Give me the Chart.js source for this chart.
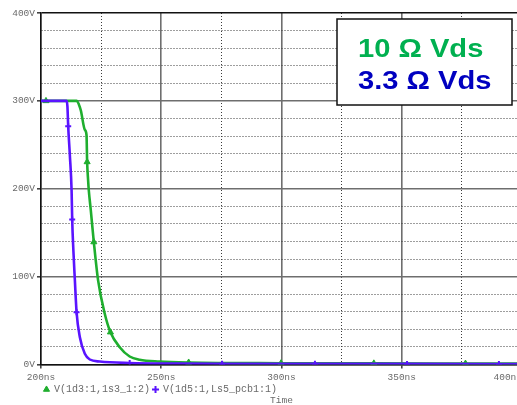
<!DOCTYPE html>
<html>
<head>
<meta charset="utf-8">
<script src="https://cdn.jsdelivr.net/npm/chart.js@4/dist/chart.umd.min.js"></script>
<style>
  html, body { margin: 0; padding: 0; background: #fff; overflow: hidden; }
  #wrap { width: 540px; height: 405px; }
</style>
</head>
<body>
<div id="wrap"><canvas id="c" width="540" height="405"></canvas></div>
<script>
// Trace 1: V(1d3:1,1s3_1:2), 10 ohm gate resistor (time in ns, volts)
const greenTime = [200, 202.07, 214.8, 215.74, 216.57, 218.23, 218.93, 219.18, 219.59, 219.88,
                   220.71, 221.96, 223.74, 226.51, 228.87, 232.73, 236.87, 241.01, 249.3, 261.4,
                   299.8, 338.4, 376.5, 400];
const greenVolts = [300, 300, 300, 296, 289, 267, 261, 230.5, 209.7, 198,
                    175.5, 139.4, 95.7, 57.8, 36.8, 19.7, 9.1, 5.4, 3.4, 2.3,
                    1.5, 1.3, 1.1, 1.0];
const greenMarkers = [1, 7, 11, 14, 19, 20, 21, 22];

// Trace 2: V(1d5:1,Ls5_pcb1:1), 3.3 ohm gate resistor
const blueTime = [200, 210.65, 210.98, 211.31, 212.0, 212.72, 212.97, 213.46, 214.08, 214.79,
                  216.16, 218.23, 220.3, 224.44, 236.87, 257.6, 275.3, 313.9, 352.2, 390.4, 400];
const blueVolts = [300, 300, 294, 271, 238, 198, 165, 130, 96, 59.6,
                   31, 12.2, 5.7, 3.4, 1.7, 1.1, 0.9, 0.8, 0.7, 0.6, 0.6];
const blueMarkers = [3, 6, 9, 14, 16, 17, 18, 19];

const seriesNames = ['V(1d3:1,1s3_1:2)', 'V(1d5:1,Ls5_pcb1:1)'];
const noteLines = ['10 \u03A9 Vds', '3.3 \u03A9 Vds'];
const xTitle = 'Time';

const GREEN = '#1fae2e';
const BLUE = '#5a14ff';
const MONO = '"Liberation Mono", "DejaVu Sans Mono", monospace';
const TICK_GREY = '#6a6a6a';

function toPoints(xs, ys) { return xs.map((x, i) => ({ x: x, y: ys[i] })); }

// Annotation box in the upper-right corner of the plot
const noteBox = {
  id: 'noteBox',
  afterDraw(chart) {
    const ctx = chart.ctx;
    ctx.save();
    ctx.fillStyle = '#fff';
    ctx.strokeStyle = '#111';
    ctx.lineWidth = 1.5;
    ctx.fillRect(337, 19, 175, 86);
    ctx.strokeRect(337, 19, 175, 86);
    ctx.font = 'bold 26px "Liberation Sans", Arial, sans-serif';
    ctx.textAlign = 'left';
    ctx.textBaseline = 'alphabetic';
    const colors = ['#00b050', '#0000c0'];
    const baselines = [56.5, 89];
    noteLines.forEach((t, i) => {
      ctx.save();
      ctx.translate(358, baselines[i]);
      ctx.scale(1.12, 1);
      ctx.fillStyle = colors[i];
      ctx.fillText(t, 0, 0);
      ctx.restore();
    });
    ctx.restore();
  }
};

new Chart(document.getElementById('c'), {
  type: 'line',
  data: {
    datasets: [
      {
        label: seriesNames[0],
        data: toPoints(greenTime, greenVolts),
        borderColor: GREEN,
        backgroundColor: GREEN,
        borderWidth: 2.6,
        cubicInterpolationMode: 'monotone',
        pointStyle: 'triangle',
        pointRadius: c => greenMarkers.includes(c.dataIndex) ? 3.5 : 0,
        pointBorderWidth: 1,
        pointBackgroundColor: GREEN,
        pointBorderColor: GREEN,
        order: 2
      },
      {
        label: seriesNames[1],
        data: toPoints(blueTime, blueVolts),
        borderColor: BLUE,
        backgroundColor: BLUE,
        borderWidth: 2.6,
        cubicInterpolationMode: 'monotone',
        pointStyle: 'cross',
        pointRadius: c => blueMarkers.includes(c.dataIndex) ? 3 : 0,
        pointBorderWidth: 2,
        pointBackgroundColor: BLUE,
        pointBorderColor: BLUE,
        order: 1
      }
    ]
  },
  options: {
    responsive: false,
    animation: false,
    events: [],
    layout: { padding: { top: 13, right: 18, left: 0, bottom: 0 } },
    scales: {
      x: {
        type: 'linear',
        min: 200,
        max: 400,
        afterBuildTicks(scale) {
          const t = [];
          for (let v = 200; v <= 400; v += 25) t.push({ value: v });
          scale.ticks = t;
        },
        afterFit(scale) {
          scale.height = 17;
          scale.paddingLeft = 0;
          scale.paddingRight = 0;
        },
        ticks: {
          autoSkip: false,
          maxRotation: 0,
          padding: 3,
          color: TICK_GREY,
          font: { family: MONO, size: 9.5 },
          callback: v => v % 50 === 0 ? (v === 400 ? v + 'ns     ' : v + 'ns') : ''
        },
        grid: {
          color: c => c.tick && c.tick.value % 50 === 0 ? '#6e6e6e' : '#3c3c3c',
          lineWidth: c => c.tick && c.tick.value % 50 === 0 ? 1.6 : 1,
          tickLength: 4,
          tickColor: c => c.tick && c.tick.value % 50 === 0 ? '#444' : 'rgba(0,0,0,0)'
        },
        border: {
          color: '#111',
          width: 1.5,
          dash: c => c.tick && c.tick.value % 50 !== 0 ? [1, 2] : []
        }
      },
      y: {
        type: 'linear',
        min: 0,
        max: 400,
        afterBuildTicks(scale) {
          const t = [];
          for (let v = 0; v <= 400; v += 20) t.push({ value: v });
          scale.ticks = t;
        },
        afterFit(scale) {
          scale.width = 41;
          scale.paddingTop = 0;
          scale.paddingBottom = 0;
        },
        ticks: {
          autoSkip: false,
          padding: 2,
          color: TICK_GREY,
          font: { family: MONO, size: 9.5 },
          callback: v => v % 100 === 0 ? v + 'V' : ''
        },
        grid: {
          color: c => {
            if (!c.tick) return '#111';
            if (c.tick.value === 400) return '#111';
            return c.tick.value % 100 === 0 ? '#6e6e6e' : '#3c3c3c';
          },
          lineWidth: c => c.tick && c.tick.value % 100 === 0 ? 1.6 : 1,
          tickLength: 4,
          tickColor: c => c.tick && c.tick.value % 100 === 0 ? '#444' : 'rgba(0,0,0,0)'
        },
        border: {
          color: '#111',
          width: 1.5,
          dash: c => c.tick && c.tick.value % 100 !== 0 ? [1, 2] : []
        }
      }
    },
    plugins: {
      tooltip: { enabled: false },
      legend: {
        position: 'bottom',
        align: 'start',
        fullSize: false,
        maxHeight: 13,
        labels: {
          usePointStyle: true,
          boxWidth: 5,
          boxHeight: 5,
          padding: 3,
          color: TICK_GREY,
          font: { family: MONO, size: 10 },
          sort: (a, b) => a.datasetIndex - b.datasetIndex
        }
      },
      title: {
        display: true,
        text: xTitle,
        position: 'bottom',
        fullSize: false,
        color: TICK_GREY,
        font: { family: MONO, size: 9.5, weight: 'normal', lineHeight: 1 },
        padding: { top: 1, bottom: 0 }
      }
    }
  },
  plugins: [noteBox]
});
</script>
</body>
</html>
